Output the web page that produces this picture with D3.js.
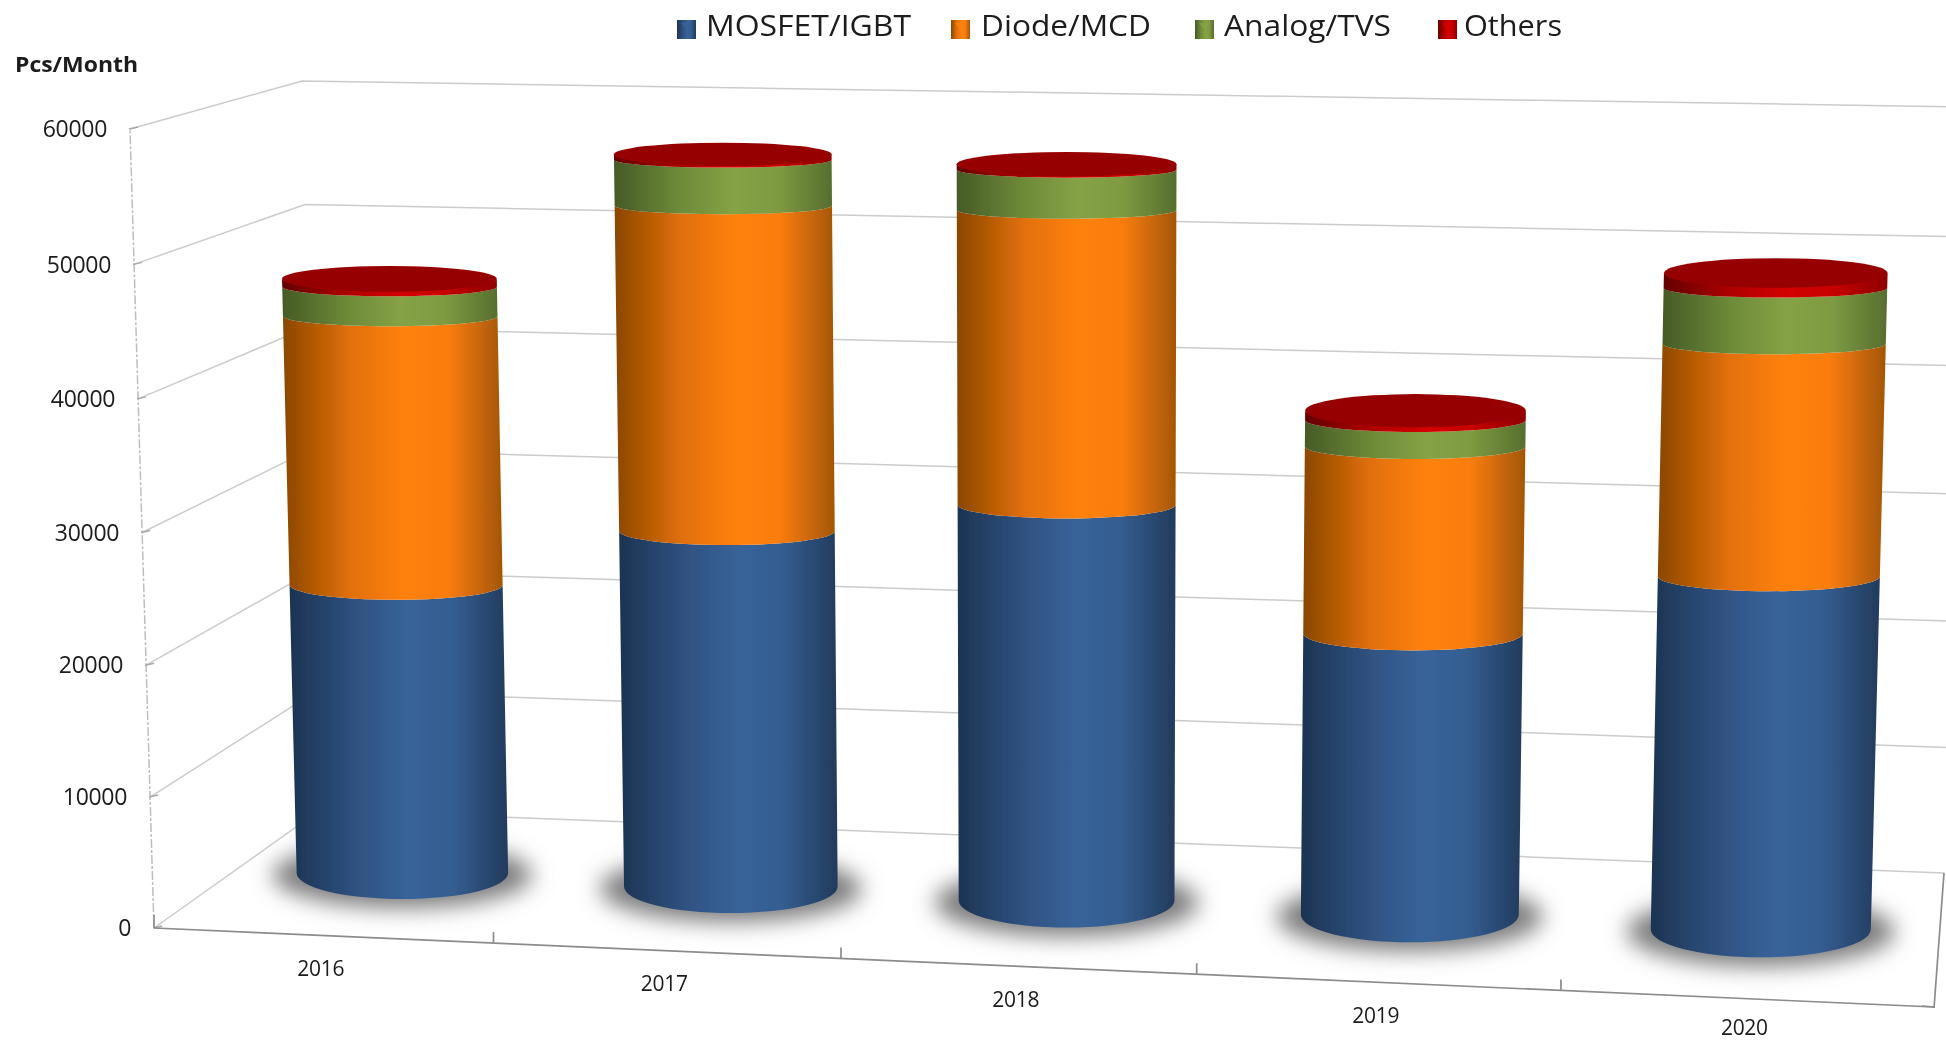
<!DOCTYPE html>
<html><head><meta charset="utf-8">
<script src="https://cdn.jsdelivr.net/npm/d3@7"></script>
<style>html,body{margin:0;padding:0;background:#fff;overflow:hidden}svg{display:block}text{font-family:"Open Sans",sans-serif;fill:#1a1a1a}</style>
</head><body><svg id="c" width="1946" height="1041"></svg>
<script>
const categories = ["2016","2017","2018","2019","2020"];
const seriesNames = ["MOSFET/IGBT","Diode/MCD","Analog/TVS","Others"];
const mosfet = [22800,27800,30600,21600,26800];
const diode  = [20950,25000,22400,14200,17400];
const analog = [2280,3500,3050,2000,4150];
const others = [600,400,400,700,1100];
const valueTicks = [0,10000,20000,30000,40000,50000,60000];
const unitLabel = "Pcs/Month";

const W=1946,H=1041;
const svg=d3.select("#c");
const defs=svg.append("defs");
defs.append("filter").attr("id","soft").attr("x","-2%").attr("y","-2%").attr("width","104%").attr("height","104%")
  .append("feGaussianBlur").attr("stdDeviation",0.55);
defs.append("filter").attr("id","shadow").attr("x","-30%").attr("y","-60%").attr("width","160%").attr("height","220%")
  .append("feGaussianBlur").attr("stdDeviation",11);

// floor quad (front-left, front-right, back-right, back-left)
const Q=[[154,928],[1934,1007],[1944,873],[320,810]];
const wallHeight={fl:799,fr:840,br:766,bl:729};
const vanishX=1067, vanishDist=30400;
function homography(q){
  const [[x0,y0],[x1,y1],[x2,y2],[x3,y3]]=q;
  const dx1=x1-x2,dx2=x3-x2,sx=x0-x1+x2-x3,dy1=y1-y2,dy2=y3-y2,sy=y0-y1+y2-y3;
  const det=dx1*dy2-dx2*dy1;
  const g=(sx*dy2-dx2*sy)/det,h=(dx1*sy-sx*dy1)/det;
  const a=x1-x0+g*x1,b=x3-x0+h*x3,d=y1-y0+g*y1,e=y3-y0+h*y3;
  return (u,v)=>{const w=g*u+h*v+1;return [(a*u+b*v+x0)/w,(d*u+e*v+y0)/w];};
}
const rawFloor=homography(Q);
const floor=(u,v)=>rawFloor(u+0.018*u*(1-u),v);
const uScale=d3.scaleBand().domain(categories).range([0,1]);
const wLinear=d3.scaleLinear().domain([0,60000]).range([0,1]);
const wScale=t=>{const f=wLinear(t);return f-0.02*f*(1-f);};
function heightAt(u,v){
  const f=wallHeight.fl+(wallHeight.fr-wallHeight.fl)*u;
  const b=wallHeight.bl+(wallHeight.br-wallHeight.bl)*u;
  return f+(b-f)*v;
}
function project(u,v,val){
  const [x,y]=floor(u,v);
  const h=heightAt(u,v)*wScale(val);
  return [x+(x-vanishX)*h/vanishDist,y-h];
}
const line=d3.line();
const plot=svg.append("g").attr("filter","url(#soft)");

// walls
const grid=plot.append("g").attr("fill","none").attr("stroke","#cccccc").attr("stroke-width",1.5);
valueTicks.forEach(t=>{
  grid.append("path").attr("d",line([project(0,0,t),project(0,1,t),project(1,1,t)]));
});
grid.append("path").attr("d",line([project(0,0,0),project(0,0,60000)])).attr("stroke-dasharray","9 2 3 2").attr("stroke","#bdbdbd");
valueTicks.forEach(t=>{
  const p=project(0,0,t);
  grid.append("path").attr("d",line([[p[0]-1,p[1]],[p[0]+8,p[1]-2]])).attr("stroke","#a8a8a8");
});
// floor front + right edge
const axis=plot.append("g").attr("fill","none").attr("stroke","#8c8c8c").attr("stroke-width",1.7);
axis.append("path").attr("d",line([Q[0],Q[1],[Q[1][0],Q[1][1]+1],Q[2]]));
axis.append("path").attr("d",line([Q[1],[Q[1][0]-12,Q[1][1]-1]]));
axis.append("path").attr("d",line([Q[0],[Q[0][0],Q[0][1]-13]]));
categories.slice(1).forEach(c=>{
  const u=uScale(c);const p=floor(u,0);
  axis.append("path").attr("d",line([p,[p[0],p[1]-11]]));
});

// colours
const palette=[
 {id:"blue",stops:["#1c3452","#2f5180","#38649a","#345d90","#223b5c"]},
 {id:"orange",stops:["#8a4703","#e06f08","#ff810d","#fa7d0b","#a45606"]},
 {id:"green",stops:["#455a26","#6d8a38","#86a246","#7f9b42","#566e2e"]},
 {id:"red",stops:["#620000","#ae0000","#d40000","#c80000","#8e0000"]}
];
const stopAt=[0,0.3,0.55,0.75,1];
palette.forEach(p=>{
  const g=defs.append("linearGradient").attr("id","g-"+p.id);
  p.stops.forEach((s,i)=>g.append("stop").attr("offset",stopAt[i]).attr("stop-color",s));
});
const topColor="#970000";

const rows=categories.map((c,i)=>({year:c,a:mosfet[i],b:diode[i],c:analog[i],d:others[i]}));
const stacked=d3.stack().keys(["a","b","c","d"])(rows);
const ryScale=d3.scaleLinear().domain([124,323,583,872,943]).range([7.5,10.2,15,26,28.5]).clamp(true);

const bars=plot.append("g");
categories.forEach((c,i)=>{
  const u=uScale(c)+uScale.bandwidth()/2, v=0.5;
  const rx0=0.1377*heightAt(u,v);
  const pt=val=>{const [x,y]=project(u,v,val);return {x,y,ry:ryScale(y),rx:rx0*(1+0.02*wLinear(val))};};
  const base=pt(0);
  bars.append("ellipse").attr("cx",base.x).attr("cy",base.y+2).attr("rx",rx0+24).attr("ry",base.ry+7)
    .attr("fill","#7c7c7c").attr("filter","url(#shadow)");
  stacked.forEach((s,k)=>{
    const lo=pt(s[i][0]),hi=pt(s[i][1]);
    const p=`M${hi.x-hi.rx},${hi.y}L${lo.x-lo.rx},${lo.y}A${lo.rx},${lo.ry} 0 0 0 ${lo.x+lo.rx},${lo.y}L${hi.x+hi.rx},${hi.y}A${hi.rx},${hi.ry} 0 0 1 ${hi.x-hi.rx},${hi.y}Z`;
    bars.append("path").attr("d",p).attr("fill",`url(#g-${palette[k].id})`);
  });
  const top=pt(stacked[3][i][1]);
  bars.append("ellipse").attr("cx",top.x).attr("cy",top.y).attr("rx",top.rx).attr("ry",top.ry+3+2.5*u).attr("fill",topColor);
});

// axis labels
const labels=svg.append("g").attr("filter","url(#soft)");
valueTicks.forEach(t=>{
  const p=project(0,0,t);
  labels.append("text").attr("x",p[0]-23).attr("y",p[1]).attr("dy","0.36em").attr("text-anchor","end")
    .attr("font-size",23).attr("letter-spacing",-0.3).text(t);
});
categories.forEach(c=>{
  const p=floor(uScale(c)+uScale.bandwidth()/2,0);
  labels.append("text").attr("x",p[0]-2).attr("y",Math.min(p[1]+33,H-14)).attr("dy","0.36em").attr("text-anchor","middle")
    .attr("font-size",21).attr("letter-spacing",-0.3).text(c);
});
labels.append("text").attr("x",15).attr("y",72).attr("font-size",20.5).attr("font-weight",700)
  .attr("textLength",123).attr("lengthAdjust","spacingAndGlyphs").text(unitLabel);

// legend
const legendX=d3.scaleOrdinal().domain(seriesNames).range([677,951,1195,1438]);
const legendW=d3.scaleOrdinal().domain(seriesNames).range([205,170,167,98]);
const legendDx=d3.scaleOrdinal().domain(seriesNames).range([29,30,29,26]);
const legend=svg.append("g").attr("filter","url(#soft)");
seriesNames.forEach((n,k)=>{
  const x=legendX(n);
  legend.append("rect").attr("x",x).attr("y",20).attr("width",19).attr("height",19)
    .attr("fill",`url(#g-${palette[k].id})`);
  legend.append("path").attr("d",line([[x+4,23],[x+15,23],[x+9.5,30]])).attr("fill",palette[k].stops[2]).attr("opacity",.8);
  legend.append("text").attr("x",x+legendDx(n)).attr("y",36).attr("font-size",29)
    .attr("textLength",legendW(n)).attr("lengthAdjust","spacingAndGlyphs").text(n);
});
</script></body></html>
